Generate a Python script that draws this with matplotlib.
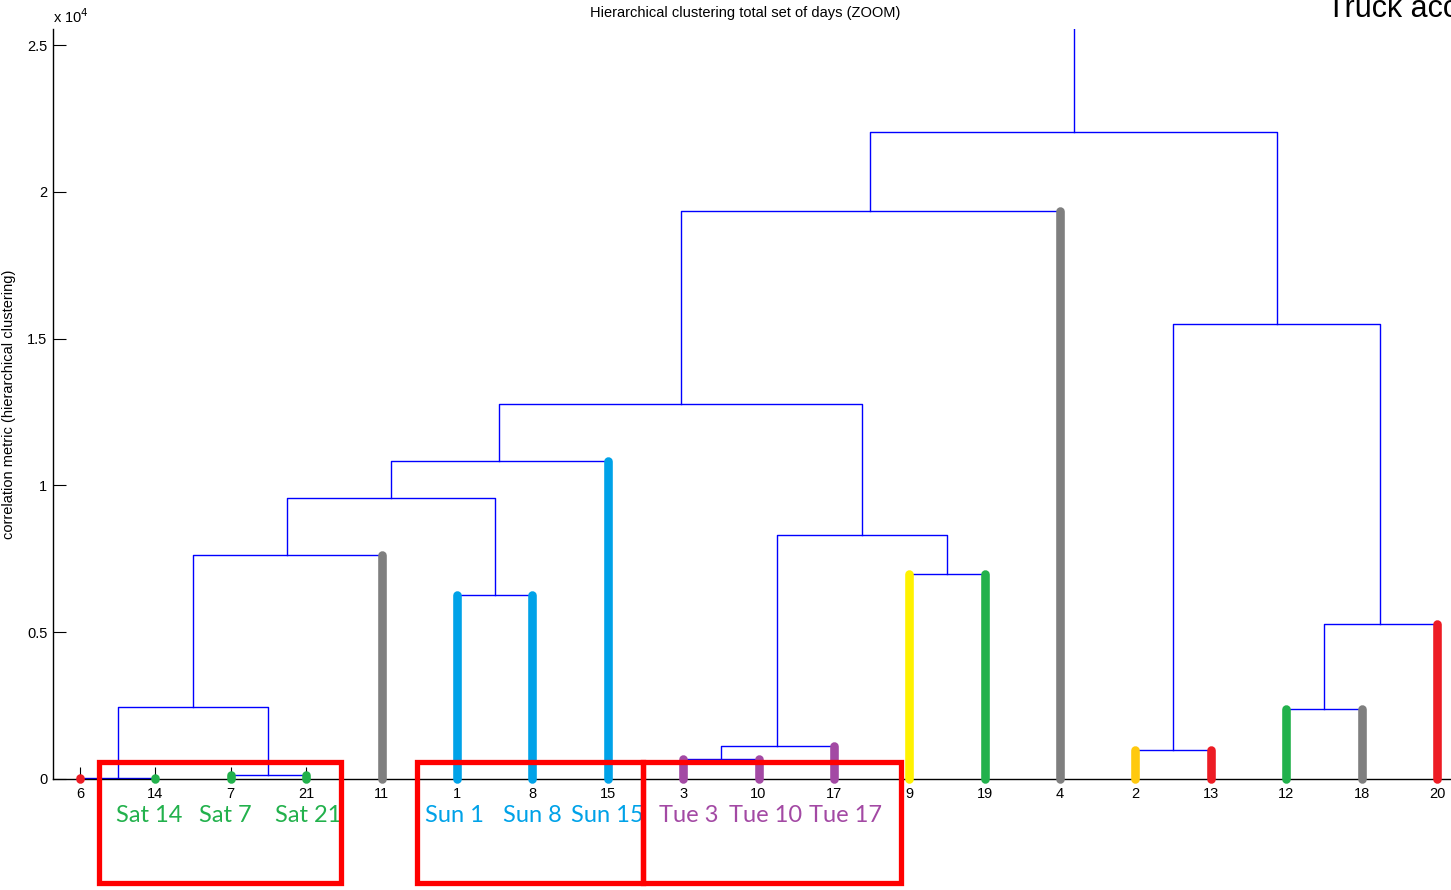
# Dendrogram of daily truck activity, zoomed on the lower part of the tree.
# Leaf bars are coloured by weekday; red boxes group Sat / Sun / Tue days.

import matplotlib
matplotlib.use('Agg')
import matplotlib.pyplot as plt
from matplotlib.patches import Rectangle
from matplotlib.transforms import blended_transform_factory

plt.rcParams['font.family'] = ['Liberation Sans', 'DejaVu Sans']

# leaves in dendrogram order and their colours
leaf_labels = [6, 14, 7, 21, 11, 1, 8, 15, 3, 10, 17, 9, 19, 4, 2, 13, 12, 18, 20]
leaf_colors = ['#ed1c24', '#22b14c', '#22b14c', '#22b14c', '#7f7f7f',
               '#00a2e8', '#00a2e8', '#00a2e8',
               '#a349a4', '#a349a4', '#a349a4',
               '#fff200', '#22b14c', '#7f7f7f',
               '#ffc90e', '#ed1c24', '#22b14c', '#7f7f7f', '#ed1c24']

# merges: (left, right, height in 1e4 units); ints = leaf labels, 'mN' = earlier merge
merges = [
    ('m1', 6, 14, 0.005),
    ('m2', 7, 21, 0.015),
    ('m3', 'm1', 'm2', 0.245),
    ('m4', 'm3', 11, 0.764),
    ('m5', 1, 8, 0.627),
    ('m6', 'm4', 'm5', 0.958),
    ('m7', 'm6', 15, 1.084),
    ('m8', 3, 10, 0.068),
    ('m9', 'm8', 17, 0.111),
    ('m10', 9, 19, 0.699),
    ('m11', 'm9', 'm10', 0.832),
    ('m12', 'm7', 'm11', 1.276),
    ('m13', 'm12', 4, 1.934),
    ('m14', 2, 13, 0.100),
    ('m15', 12, 18, 0.238),
    ('m16', 'm15', 20, 0.528),
    ('m17', 'm14', 'm16', 1.551),
    ('m18', 'm13', 'm17', 2.204),
]

# annotated days under the axis
day_names = ['Sat 14', 'Sat 7', 'Sat 21', 'Sun 1', 'Sun 8', 'Sun 15',
             'Tue 3', 'Tue 10', 'Tue 17']
day_leaves = [14, 7, 21, 1, 8, 15, 3, 10, 17]
day_colors = ['#22b14c'] * 3 + ['#00a2e8'] * 3 + ['#a349a4'] * 3

fig = plt.figure(figsize=(14.51, 8.90), dpi=100)
ax = fig.add_axes([53 / 1451, 1 - 779 / 890, (1480 - 53) / 1451, 750 / 890])

xpos = {lab: i + 1 for i, lab in enumerate(leaf_labels)}
ypos = {lab: 0.0 for lab in leaf_labels}
parent_h = {}

for name, a, b, h in merges:
    xa, xb = xpos[a], xpos[b]
    ya, yb = ypos[a], ypos[b]
    ax.plot([xa, xa, xb, xb], [ya, h, h, yb], color='#0000ff', lw=1.0, zorder=2)
    xpos[name] = (xa + xb) / 2
    ypos[name] = h
    parent_h[a] = h
    parent_h[b] = h

# stub from the root up to the top of the zoom window
root = merges[-1][0]
ax.plot([xpos[root], xpos[root]], [ypos[root], 2.56], color='#0000ff', lw=1.0,
        zorder=2)

# thick coloured bar on each leaf, up to the merge it joins
for lab, col in zip(leaf_labels, leaf_colors):
    x = xpos[lab]
    ax.plot([x, x], [0, parent_h[lab]], color=col, lw=6.2,
            solid_capstyle='round', zorder=3, clip_on=False)

ax.set_xlim(0.642, 19.57)
ax.set_ylim(0, 2.5545)
ax.set_xticks(range(1, len(leaf_labels) + 1))
ax.set_xticklabels([str(l) for l in leaf_labels])
ax.set_yticks([0, 0.5, 1, 1.5, 2, 2.5])
ax.set_yticklabels(['0', '0.5', '1', '1.5', '2', '2.5'])
ax.tick_params(direction='in', length=9, width=0.8, labelsize=10.5, colors='#000000')
ax.tick_params(axis='x', pad=6)
ax.tick_params(axis='y', pad=4)
for side in ['top', 'right']:
    ax.spines[side].set_visible(False)
for side in ['left', 'bottom']:
    ax.spines[side].set_linewidth(1.0)

ax.set_ylabel('correlation metric (hierarchical clustering)', fontsize=10.5,
              labelpad=8)
ax.text(0.0, 1.004, 'x 10$^{4}$', transform=ax.transAxes, fontsize=10.5,
        ha='left', va='bottom')

fig.text(745 / 1451, 1 - 13 / 890, 'Hierarchical clustering total set of days (ZOOM)',
         ha='center', va='center', fontsize=10.5)
fig.text(1327 / 1451, 1 - 17 / 890, 'Truck acc', ha='left', va='baseline',
         fontsize=22)

# day labels below the tick labels, nudged a little off their leaves
trans = blended_transform_factory(ax.transData, ax.transAxes)
nudges = [-0.08, -0.07, 0.03, -0.03, 0.0, 0.0, 0.07, 0.1, 0.16]
for name, lab, col, dx in zip(day_names, day_leaves, day_colors, nudges):
    ax.text(xpos[lab] + dx, -0.049, name, transform=trans, color=col, fontsize=17,
            family=['Lato', 'DejaVu Sans'], ha='center', va='center',
            clip_on=False)

# red boxes around the Sat, Sun and Tue groups
boxes = [(1.252, 4.462), (5.47, 8.468), (8.468, 11.89)]
for x0, x1 in boxes:
    ax.add_patch(Rectangle((x0, -0.354), x1 - x0, 0.412, fill=False,
                           edgecolor='#ff0000', lw=3.8, clip_on=False, zorder=4))

fig.savefig('out.png', dpi=100)
